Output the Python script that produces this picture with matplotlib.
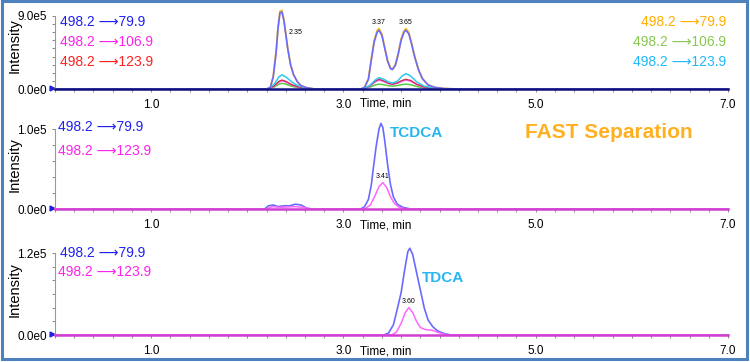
import matplotlib
matplotlib.use("Agg")
import matplotlib.pyplot as plt
from matplotlib.ticker import MultipleLocator, FixedLocator
from matplotlib.patches import Rectangle

plt.rcParams['font.family'] = ['Liberation Sans', 'DejaVu Sans']

# ---- panel 1: MRM traces, intensity in units of 1e5 ----
p1_time_main = [0.0, 2.20, 2.24, 2.27, 2.30, 2.32, 2.34, 2.36, 2.38, 2.40, 2.42, 2.45, 2.48, 2.52,
                2.56, 2.62, 2.70, 3.18, 3.22, 3.26, 3.29, 3.32, 3.35, 3.37, 3.40, 3.43, 3.46, 3.49,
                3.51, 3.54, 3.57, 3.60, 3.63, 3.65, 3.68, 3.71, 3.74, 3.78, 3.82, 3.88, 3.95, 4.05,
                4.20, 7.0]
p1_blue = [0, 0, 0.2, 1.5, 4.5, 7.5, 9.4, 9.5, 8.5, 6.8, 5.0, 3.0, 1.8, 0.9, 0.4, 0.15, 0, 0, 0.2,
           1.2, 3.6, 5.8, 7.0, 7.25, 6.6, 5.0, 3.4, 2.5, 2.4, 2.9, 4.3, 6.0, 7.0, 7.25, 6.8, 5.5,
           4.0, 2.4, 1.3, 0.5, 0.2, 0.05, 0, 0]
p1_orange = [0, 0, 0.2, 1.6, 4.7, 7.7, 9.6, 9.7, 8.6, 6.9, 5.1, 3.0, 1.8, 0.9, 0.4, 0.15, 0, 0, 0.2,
             1.3, 3.7, 6.0, 7.2, 7.45, 6.8, 5.1, 3.5, 2.6, 2.5, 3.0, 4.4, 6.2, 7.2, 7.45, 7.0, 5.6,
             4.1, 2.4, 1.3, 0.5, 0.2, 0.05, 0, 0]

p1_time_minor = [0.0, 2.22, 2.28, 2.33, 2.36, 2.40, 2.46, 2.52, 2.60, 2.70, 3.20, 3.27, 3.33, 3.37,
                 3.42, 3.47, 3.51, 3.56, 3.61, 3.65, 3.70, 3.76, 3.84, 3.95, 4.10, 7.0]
p1_cyan = [0, 0, 0.6, 1.5, 1.75, 1.5, 0.9, 0.45, 0.15, 0, 0, 0.4, 1.1, 1.4, 1.2, 0.85, 0.75, 0.95,
           1.6, 1.9, 1.6, 0.9, 0.35, 0.1, 0, 0]
p1_red = [0, 0, 0.4, 0.95, 1.1, 0.95, 0.55, 0.3, 0.1, 0, 0, 0.35, 0.95, 1.2, 1.0, 0.7, 0.6, 0.75,
          1.05, 1.2, 1.05, 0.6, 0.25, 0.08, 0, 0]
p1_magenta = [0, 0, 0.35, 0.85, 1.0, 0.85, 0.5, 0.25, 0.08, 0, 0, 0.3, 0.85, 1.1, 0.9, 0.65, 0.55,
              0.7, 0.95, 1.1, 0.95, 0.55, 0.2, 0.06, 0, 0]
p1_green = [0, 0, 0.25, 0.6, 0.7, 0.6, 0.35, 0.18, 0.06, 0, 0, 0.2, 0.5, 0.6, 0.52, 0.4, 0.35, 0.42,
            0.55, 0.6, 0.52, 0.32, 0.12, 0.04, 0, 0]
p1_peak_labels = ["2.35", "3.37", "3.65"]

# ---- panel 2: TCDCA ----
p2_time_blue = [0.0, 2.18, 2.22, 2.27, 2.32, 2.38, 2.44, 2.50, 2.56, 2.62, 2.68, 3.18, 3.22, 3.26,
                3.29, 3.31, 3.34, 3.37, 3.39, 3.41, 3.43, 3.46, 3.49, 3.52, 3.56, 3.62, 3.70, 7.0]
p2_blue = [0, 0, 0.04, 0.05, 0.03, 0.04, 0.04, 0.06, 0.05, 0.01, 0, 0, 0.03, 0.12, 0.30, 0.50, 0.78,
           1.0, 1.07, 1.02, 0.85, 0.55, 0.30, 0.15, 0.06, 0.02, 0, 0]
p2_time_mag = [0.0, 2.20, 2.26, 2.34, 2.42, 2.50, 2.58, 2.66, 3.22, 3.28, 3.33, 3.37, 3.41, 3.45,
               3.49, 3.53, 3.58, 3.65, 7.0]
p2_magenta = [0, 0, 0.03, 0.02, 0.025, 0.03, 0.02, 0, 0, 0.05, 0.17, 0.28, 0.33, 0.27, 0.15, 0.07,
              0.02, 0, 0]

# ---- panel 3: TDCA ----
p3_time_blue = [0.0, 3.42, 3.47, 3.52, 3.56, 3.60, 3.64, 3.67, 3.69, 3.72, 3.76, 3.80, 3.84, 3.88,
                3.93, 3.98, 4.05, 4.12, 7.0]
p3_blue = [0, 0, 0.03, 0.15, 0.38, 0.62, 0.98, 1.22, 1.27, 1.18, 0.92, 0.66, 0.40, 0.22, 0.12, 0.06,
           0.02, 0, 0]
p3_time_mag = [0.0, 3.50, 3.55, 3.60, 3.64, 3.68, 3.72, 3.76, 3.80, 3.85, 3.92, 3.98, 4.05, 4.12, 7.0]
p3_magenta = [0, 0, 0.04, 0.17, 0.32, 0.40, 0.33, 0.20, 0.11, 0.08, 0.07, 0.04, 0.01, 0, 0]

x_ticks = [1.0, 3.0, 5.0, 7.0]
y_tops = [9.0, 1.0, 1.2]          # in 1e5
y_top_labels = ["9.0e5", "1.0e5", "1.2e5"]
y_minor_steps = [1.0, 0.2, 0.2]

ARROW = " \u27f6"
BLUE = '#6a6aff'
ORANGE = '#ffc020'
CYAN = '#30c8f0'
RED = '#d03050'
MAG = '#ff66ff'
GREEN = '#55cc44'

fig = plt.figure(figsize=(7.5, 3.62), dpi=100)
L, W = 55 / 750, 673 / 750
rects = [(89, 16), (209, 129), (335, 253)]   # bottom, top pixel rows
axes = []
for (b, t) in rects:
    ax = fig.add_axes([L, 1 - b / 362, W, (b - t) / 362])
    axes.append(ax)

for i, ax in enumerate(axes):
    ax.set_xlim(0, 7.0)
    ax.set_ylim(0, y_tops[i])
    for s in ['top', 'right']:
        ax.spines[s].set_visible(False)
    ax.spines['left'].set_color('#999999')
    ax.spines['left'].set_linewidth(0.8)
    ax.spines['bottom'].set_linewidth(1.8)
    ax.xaxis.set_major_locator(FixedLocator(x_ticks))
    ax.xaxis.set_minor_locator(MultipleLocator(0.2))
    ax.set_xticklabels([f"{v:.1f}" for v in x_ticks])
    ax.yaxis.set_major_locator(FixedLocator([0, y_tops[i]]))
    ax.yaxis.set_minor_locator(MultipleLocator(y_minor_steps[i]))
    ax.set_yticklabels(["0.0e0", y_top_labels[i]])
    ax.tick_params(axis='x', which='both', length=2.5, width=0.7, color='#888888',
                   labelsize=8.5, pad=5)
    ax.tick_params(axis='y', which='both', length=2, width=0.7, color='#888888',
                   labelsize=8.5, pad=4)
    ax.set_ylabel("Intensity", fontsize=10.5)
    ax.yaxis.set_label_coords(-0.05, 0.6 if i == 0 else 0.55)
    ax.text(3.17, -0.2, "Time, min", transform=ax.get_xaxis_transform(),
            fontsize=8.5, va='center', ha='left')
    ax.plot([-0.004], [0.015], marker='>', color='#2020e0', markersize=3.5,
            transform=ax.transAxes, clip_on=False)


def label(x_px, y_px, txt, color, ha='left'):
    fig.text(x_px / 750, 1 - y_px / 362, txt, color=color, fontsize=10, va='center', ha=ha)


# panel 1
ax = axes[0]
ax.spines['bottom'].set_color('#101080')
ax.plot(p1_time_minor, p1_green, color=GREEN, lw=1.1, clip_on=False)
ax.plot(p1_time_minor, p1_magenta, color=MAG, lw=1.0, clip_on=False)
ax.plot(p1_time_minor, p1_red, color=RED, lw=1.0, clip_on=False)
ax.plot(p1_time_minor, p1_cyan, color=CYAN, lw=1.1, clip_on=False)
ax.plot(p1_time_main, p1_orange, color=ORANGE, lw=1.3, clip_on=False)
ax.plot(p1_time_main, p1_blue, color=BLUE, lw=1.2, clip_on=False)
ax.annotate(p1_peak_labels[0], (2.40, 7.0), fontsize=5, ha='left', va='center',
            xytext=(2, 0), textcoords='offset points')
ax.annotate(p1_peak_labels[1], (3.37, 7.45), fontsize=5, ha='center', va='bottom',
            xytext=(0, 2), textcoords='offset points', annotation_clip=False)
ax.annotate(p1_peak_labels[2], (3.65, 7.45), fontsize=5, ha='center', va='bottom',
            xytext=(0, 2), textcoords='offset points', annotation_clip=False)
left_labels = [("498.2" + ARROW + "79.9", '#2020f0'), ("498.2" + ARROW + "106.9", '#ff22ee'),
               ("498.2" + ARROW + "123.9", '#ff2020')]
right_labels = [("498.2" + ARROW + "79.9", '#ffb000'), ("498.2" + ARROW + "106.9", '#88c850'),
                ("498.2" + ARROW + "123.9", '#20b8f8')]
for k, (txt, c) in enumerate(left_labels):
    label(60, 22 + 20 * k, txt, c)
for k, (txt, c) in enumerate(right_labels):
    label(726, 22 + 20 * k, txt, c, ha='right')

# panel 2
ax = axes[1]
ax.spines['bottom'].set_color('#d040d0')
ax.plot(p2_time_blue, p2_blue, color=BLUE, lw=1.2, clip_on=False)
ax.plot(p2_time_mag, p2_magenta, color=MAG, lw=1.1, clip_on=False)
ax.annotate("3.41", (3.41, 0.33), fontsize=5, ha='center', va='bottom',
            xytext=(0, 2), textcoords='offset points')
label(58, 127, "498.2" + ARROW + "79.9", '#2020f0')
label(58, 151, "498.2" + ARROW + "123.9", '#ff22ee')
fig.text(390 / 750, 1 - 133 / 362, "TCDCA", color='#29b6f0', fontsize=11, fontweight='bold',
         va='center')
fig.text(525 / 750, 1 - 133 / 362, "FAST Separation", color='#ffb020', fontsize=15,
         fontweight='bold', va='center')

# panel 3
ax = axes[2]
ax.spines['bottom'].set_color('#d040d0')
ax.plot(p3_time_blue, p3_blue, color=BLUE, lw=1.2, clip_on=False)
ax.plot(p3_time_mag, p3_magenta, color=MAG, lw=1.1, clip_on=False)
ax.annotate("3.60", (3.68, 0.40), fontsize=5, ha='center', va='bottom',
            xytext=(0, 2), textcoords='offset points')
label(60, 253, "498.2" + ARROW + "79.9", '#2020f0')
label(58, 272, "498.2" + ARROW + "123.9", '#ff22ee')
fig.text(422 / 750, 1 - 278 / 362, "TDCA", color='#29b6f0', fontsize=11, fontweight='bold',
         va='center')

# blue frame round the whole picture
fig.patches.append(Rectangle((0.002, 0.008), 0.994, 0.988, transform=fig.transFigure,
                             fill=False, edgecolor='#4f81bd', lw=2.2))

fig.savefig("out.png", dpi=100)
